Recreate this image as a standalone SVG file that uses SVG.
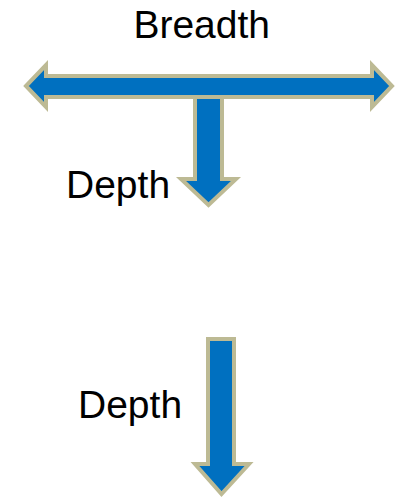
<svg xmlns="http://www.w3.org/2000/svg" width="402" height="499" viewBox="0 0 402 499">
<style>
.arrow{fill:#0070C0;stroke:#BDBA94;stroke-width:4;stroke-linejoin:miter;stroke-miterlimit:10}
.lbl{font-family:"Liberation Sans",Arial,sans-serif;font-size:39px;fill:#000}
</style>
<rect width="402" height="499" fill="#fff"/>
<g id="connectors">
<polygon id="depth-arrow-1" class="arrow" points="195,96 222,96 222,179 236,179 208.5,205 181,179 195,179"/>
<polygon id="breadth-arrow" class="arrow" points="26,86 46,65 46,76 372,76 372,65 392,86 372,107 372,97 46,97 46,107"/>
<polygon id="depth-arrow-2" class="arrow" points="208,339 234,339 234,464 249,464 221.5,494 195,464 208,464"/>
</g>
<g id="label-breadth"><text class="lbl" x="201.7" y="38" text-anchor="middle">Breadth</text></g>
<g id="label-depth-1"><text class="lbl" x="66" y="198">Depth</text></g>
<g id="label-depth-2"><text class="lbl" x="78" y="418">Depth</text></g>
</svg>
